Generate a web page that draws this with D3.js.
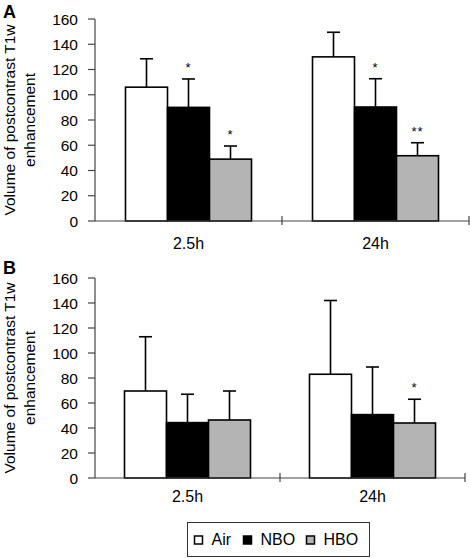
<!DOCTYPE html>
<html>
<head>
<meta charset="utf-8">
<script src="https://cdn.jsdelivr.net/npm/d3@7"></script>
<style>
  body { margin: 0; background: #fff; }
  svg { display: block; }
  text { font-family: Arial, "Liberation Sans", Helvetica, sans-serif; fill: #000; }
</style>
</head>
<body>
<svg id="chart" width="470" height="558"></svg>
<script>
// ---- Data ----
const categories = ["2.5h", "24h"];
const seriesNames = ["Air", "NBO", "HBO"];
const yTicks = [0, 20, 40, 60, 80, 100, 120, 140, 160];
const yTitle = ["Volume of postcontrast T1w", "enhancement"];

// Panel A
const aAir = [106, 130];
const aNBO = [90, 90.3];
const aHBO = [49, 51.7];
const aAirErr = [22.5, 19.5];
const aNBOErr = [22.5, 22.4];
const aHBOErr = [10.4, 10.3];
const aAirSig = ["", ""];
const aNBOSig = ["*", "*"];
const aHBOSig = ["*", "**"];

// Panel B
const bAir = [69.6, 83];
const bNBO = [44.3, 50.7];
const bHBO = [46.4, 44];
const bAirErr = [43.4, 59];
const bNBOErr = [22.7, 38.1];
const bHBOErr = [23.2, 19];
const bAirSig = ["", ""];
const bNBOSig = ["", ""];
const bHBOSig = ["", "*"];

const fills = { Air: "#ffffff", NBO: "#000000", HBO: "#b4b4b4" };

const svg = d3.select("#chart");

function panel(cfg) {
  const { letter, letterY, x0, x1, yTop, yBottom, labelBaseline, vals, errs, sigs } = cfg;
  const g = svg.append("g");
  const y = d3.scaleLinear().domain([0, 160]).range([yBottom, yTop]);
  const xc = d3.scaleBand().domain(categories).range([x0, x1]).padding(0);
  const bw = xc.bandwidth();
  const barW = 42;
  const xs = d3.scaleBand().domain(seriesNames)
    .range([(bw - 3 * barW) / 2, (bw + 3 * barW) / 2]).padding(0);

  // panel letter
  g.append("text").attr("x", 3).attr("y", letterY)
    .style("font-size", "18px").style("font-weight", "bold").text(letter);

  // y title
  const midY = (yTop + yBottom) / 2;
  yTitle.forEach((t, i) => {
    g.append("text")
      .attr("transform", `translate(${14.5 + i * 20.5},${midY}) rotate(-90)`)
      .attr("text-anchor", "middle")
      .style("font-size", "15.5px").text(t);
  });

  // bars
  categories.forEach((c, ci) => {
    seriesNames.forEach((s, si) => {
      const v = vals[si][ci];
      const e = errs[si][ci];
      const bx = xc(c) + xs(s);
      const cx = bx + xs.bandwidth() / 2;
      // error bar (upper only)
      g.append("line").attr("x1", cx).attr("x2", cx)
        .attr("y1", y(v)).attr("y2", y(v + e))
        .attr("stroke", "#000").attr("stroke-width", 1.6);
      g.append("line").attr("x1", cx - 6.5).attr("x2", cx + 6.5)
        .attr("y1", y(v + e)).attr("y2", y(v + e))
        .attr("stroke", "#000").attr("stroke-width", 1.6);
      g.append("rect").attr("x", bx).attr("y", y(v))
        .attr("width", xs.bandwidth()).attr("height", y(0) - y(v))
        .attr("fill", fills[s]).attr("stroke", "#000").attr("stroke-width", 1.6);
      const sg = sigs[si][ci];
      if (sg) {
        g.append("text").attr("x", cx).attr("y", y(v + e) - 7)
          .attr("text-anchor", "middle").style("font-size", "13px")
          .style("letter-spacing", "1px").text(sg);
      }
    });
    g.append("text").attr("x", xc(c) + bw / 2).attr("y", labelBaseline)
      .attr("text-anchor", "middle").style("font-size", "16px").text(c);
  });

  // y axis
  g.append("line").attr("x1", x0).attr("x2", x0).attr("y1", y(0)).attr("y2", y(160))
    .attr("stroke", "#444").attr("stroke-width", 1.2);
  yTicks.forEach(t => {
    g.append("line").attr("x1", x0 - 7).attr("x2", x0).attr("y1", y(t)).attr("y2", y(t))
      .attr("stroke", "#444").attr("stroke-width", 1.2);
    g.append("text").attr("x", x0 - 17).attr("y", y(t)).attr("dy", "0.36em")
      .attr("text-anchor", "end").style("font-size", "15.5px").text(t);
  });
  // x axis
  g.append("line").attr("x1", x0).attr("x2", x1).attr("y1", y(0)).attr("y2", y(0))
    .attr("stroke", "#444").attr("stroke-width", 1.2);
  categories.forEach(c => {
    const tx = xc(c) + bw;
    g.append("line").attr("x1", tx).attr("x2", tx).attr("y1", y(0) - 5).attr("y2", y(0) + 4)
      .attr("stroke", "#444").attr("stroke-width", 1.2);
  });
}

panel({
  letter: "A", letterY: 18, x0: 95, x1: 469, yTop: 19, yBottom: 221, labelBaseline: 248.5,
  vals: [aAir, aNBO, aHBO], errs: [aAirErr, aNBOErr, aHBOErr], sigs: [aAirSig, aNBOSig, aHBOSig]
});
panel({
  letter: "B", letterY: 274, x0: 95, x1: 465, yTop: 278, yBottom: 478, labelBaseline: 502,
  vals: [bAir, bNBO, bHBO], errs: [bAirErr, bNBOErr, bHBOErr], sigs: [bAirSig, bNBOSig, bHBOSig]
});

// legend
const lg = svg.append("g");
lg.append("rect").attr("x", 187.5).attr("y", 522.5).attr("width", 182).attr("height", 34)
  .attr("fill", "none").attr("stroke", "#333").attr("stroke-width", 1);
const legX = d3.scaleOrdinal().domain(seriesNames).range([194.5, 243.5, 306.5]);
seriesNames.forEach(s => {
  lg.append("rect").attr("x", legX(s)).attr("y", 536).attr("width", 8).attr("height", 8)
    .attr("fill", fills[s]).attr("stroke", "#000").attr("stroke-width", 1.5);
  lg.append("text").attr("x", legX(s) + 17).attr("y", 545)
    .style("font-size", "16px").text(s);
});
</script>
</body>
</html>
